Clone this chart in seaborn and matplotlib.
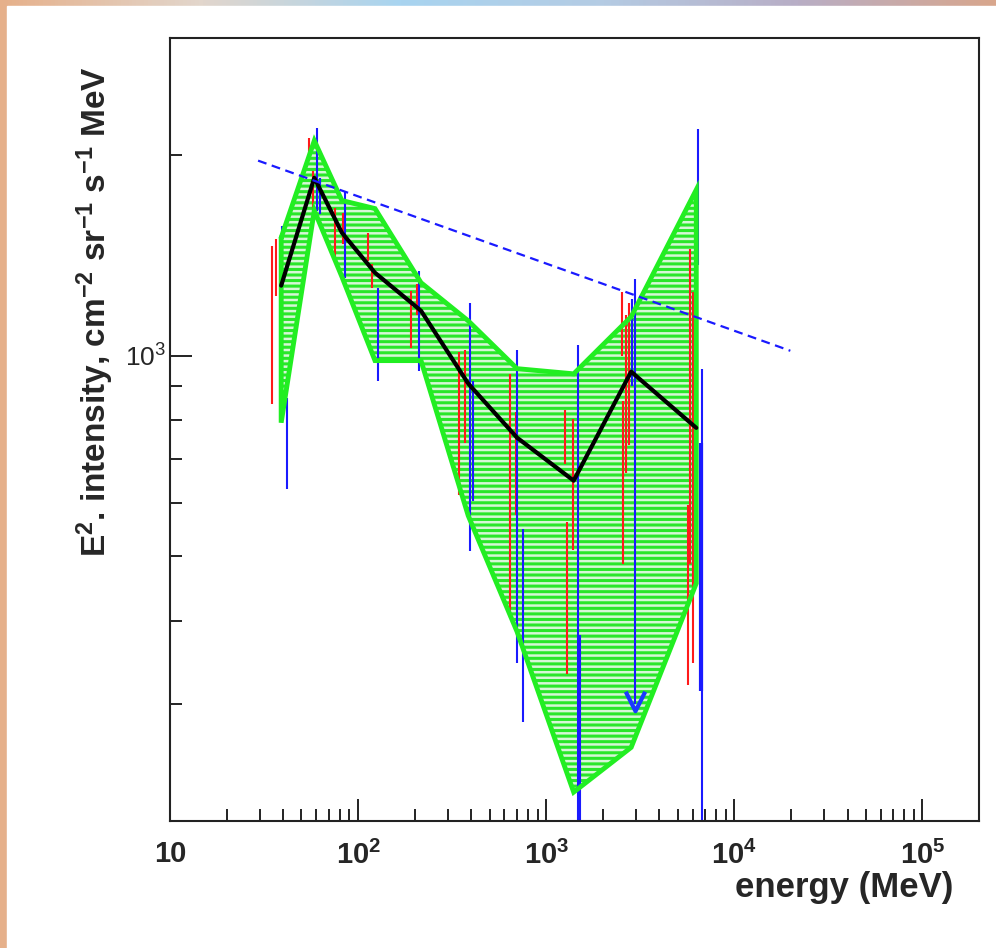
import numpy as np
import matplotlib
matplotlib.use("Agg")
import matplotlib.pyplot as plt
from matplotlib.path import Path
from matplotlib.patches import Rectangle
from matplotlib.colors import LinearSegmentedColormap
from matplotlib.ticker import LogLocator, FixedLocator, FixedFormatter, NullFormatter
import seaborn as sns

# energy bins (MeV) of the mean spectrum and of the green band
energy = [39, 58.5, 82, 123, 216, 385, 700, 1400, 2830, 6280]
mean_flux = [1274, 1850, 1530, 1332, 1168, 908, 753, 649, 946, 779]
band_hi = [1504, 2103, 1710, 1663, 1287, 1128, 956, 939, 1144, 1775]
band_lo = [793, 1652, 1314, 983, 983, 575, 385, 221, 258, 455]

# dashed blue reference line
ref_energy = [29.4, 19860]
ref_flux = [1963, 1017]

# red error bars
red_E = [35.0, 36.8, 54.9, 57.6, 75.5, 83.2, 113, 119, 191, 205, 344, 371,
         643, 692, 1262, 1293, 1392, 2537, 2568, 2664, 2763, 5692, 5834, 6053]
red_lo = [847, 1231, 1963, 1651, 1403, 1473, 1389, 1265, 1028, 1150, 618, 740,
          403, 577, 688, 333, 511, 1000, 487, 667, 733, 320, 487, 345]
red_hi = [1463, 1499, 2125, 1896, 1668, 1639, 1530, 1375, 1252, 1283, 1014, 1021,
          940, 824, 830, 563, 804, 1248, 856, 1152, 1201, 597, 1448, 1248]

# blue error bars
blue_E = [39.4, 41.9, 60.5, 62.8, 85.3, 128, 211, 394, 409, 701, 755, 1480,
          1517, 2867, 2974, 6435, 6357, 6758]
blue_lo = [917, 631, 1651, 1634, 1310, 917, 949, 509, 604, 345, 282, 190,
           190, 899, 300, 1370, 667, 190]
blue_hi = [1567, 865, 2199, 1851, 1769, 1265, 1342, 1201, 917, 1021, 550, 1039,
           380, 1218, 1305, 2192, 1144, 956]
blue_thick_E = [6676]
blue_thick_lo = [314]
blue_thick_hi = [738]

# upper limit arrow
ul_E = [2974]
ul_flux = [303]

x_ticks = [10, 100, 1000, 10000, 100000]
x_ticklabels = ["10", "$10^{2}$", "$10^{3}$", "$10^{4}$", "$10^{5}$"]

sns.set_theme(style="ticks")
plt.rcParams["font.family"] = ["Liberation Sans", "DejaVu Sans"]
plt.rcParams["mathtext.default"] = "regular"
plt.rcParams["hatch.linewidth"] = 2.2

W, H = 996, 948
fig = plt.figure(figsize=(W / 100, H / 100), dpi=100)
fig.patch.set_facecolor("white")

# slide background strip at the top / left
bg = fig.add_axes([0, 0, 1, 1], zorder=-10)
bg.axis("off")
strip = LinearSegmentedColormap.from_list(
    "strip", ["#e6b08a", "#e2d6cc", "#a8d4f0", "#b4cce4", "#b8aec6", "#d8a68c"])
bg.imshow(np.linspace(0, 1, 256)[None, :], aspect="auto", cmap=strip,
          extent=[0, 1, 0, 1])
bg.add_patch(Rectangle((7 / W, 0), 1, 1 - 6 / H, color="white"))
bg.set_xlim(0, 1)
bg.set_ylim(0, 1)

ax = fig.add_axes([170 / W, 1 - 821 / H, (979 - 170) / W, (821 - 38) / H])
ax.set_facecolor("white")
ax.set_xscale("log")
ax.set_yscale("log")

# green band
poly_x = list(energy) + list(energy[::-1])
poly_y = list(band_hi) + list(band_lo[::-1])
ax.fill(poly_x, poly_y, facecolor="#d6f7d6", edgecolor="#2ae62a",
        hatch="---", linewidth=0, zorder=1)

# error bars
ax.vlines(red_E, red_lo, red_hi, color="#ff1a1a", linewidth=1.5, zorder=2)
ax.vlines(blue_E, blue_lo, blue_hi, color="#1a1aff", linewidth=1.5, zorder=2)
ax.vlines(blue_thick_E, blue_thick_lo, blue_thick_hi, color="#1a1aff",
          linewidth=3, zorder=2)

v_mark = Path([(-1, 1), (0, -1), (1, 1)], [Path.MOVETO, Path.LINETO, Path.LINETO])
ax.plot(ul_E, ul_flux, linestyle="none", marker=v_mark, markersize=14,
        markerfacecolor="none", markeredgecolor="#1a3aff", markeredgewidth=3,
        zorder=3)

# band outline
ax.plot(poly_x + [energy[0]], poly_y + [band_hi[0]], color="#22ee22",
        linewidth=3.5, solid_joinstyle="miter", zorder=3)

sns.lineplot(x=energy, y=mean_flux, color="black", linewidth=3, sort=False,
             estimator=None, ax=ax, zorder=4)
sns.lineplot(x=ref_energy, y=ref_flux, color="#1a1aff", linewidth=1.6,
             linestyle=(0, (4, 2.5)), ax=ax, zorder=4)

ax.set_xlim(10, 2.0e5)
ax.set_ylim(200, 3000)

ax.xaxis.set_major_locator(FixedLocator(x_ticks))
ax.xaxis.set_major_formatter(FixedFormatter(x_ticklabels))
ax.xaxis.set_minor_locator(LogLocator(base=10, subs=range(2, 10), numticks=20))
ax.xaxis.set_minor_formatter(NullFormatter())
ax.yaxis.set_major_locator(FixedLocator([1000]))
ax.yaxis.set_major_formatter(FixedFormatter(["$10^{3}$"]))
ax.yaxis.set_minor_locator(LogLocator(base=10, subs=range(2, 10), numticks=20))
ax.yaxis.set_minor_formatter(NullFormatter())

ax.tick_params(which="both", direction="in", top=False, right=False,
               color="#222222", width=1.4)
ax.tick_params(which="major", length=16)
ax.tick_params(which="minor", length=8.5)
ax.tick_params(axis="x", which="major", labelsize=21, pad=14)
ax.tick_params(axis="y", which="major", labelsize=19, pad=3)
for lab in ax.get_xticklabels():
    lab.set_fontweight("bold")
for sp in ax.spines.values():
    sp.set_linewidth(1.5)
    sp.set_color("#222222")
ax.set_xlabel("")
ax.set_ylabel("")
ax.grid(False)

fig.text(116 / W, 1 - 312 / H,
         "E$^{2}$. intensity, cm$^{-2}$ sr$^{-1}$ s$^{-1}$ MeV",
         rotation=90, ha="right", va="center", fontsize=24, fontweight="bold")
fig.text(953 / W, 1 - 888 / H, "energy (MeV)", ha="right", va="center",
         fontsize=25, fontweight="bold")

fig.savefig("out.png", dpi=100)
